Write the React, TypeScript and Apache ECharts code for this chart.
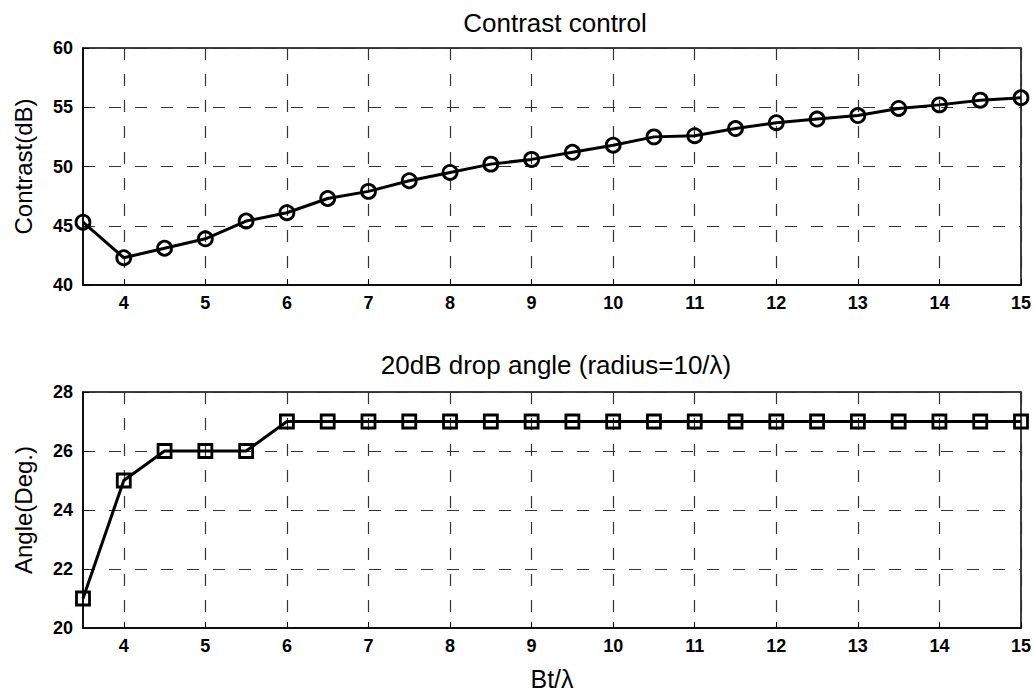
import React, { useEffect, useRef } from "react";
import * as echarts from "echarts";

const btOverLambda = [3.5, 4, 4.5, 5, 5.5, 6, 6.5, 7, 7.5, 8, 8.5, 9, 9.5, 10, 10.5, 11, 11.5, 12, 12.5, 13, 13.5, 14, 14.5, 15];
const contrastDb = [45.3, 42.3, 43.1, 43.9, 45.4, 46.1, 47.3, 47.9, 48.8, 49.5, 50.2, 50.6, 51.2, 51.8, 52.5, 52.6, 53.2, 53.7, 54.0, 54.3, 54.9, 55.2, 55.6, 55.8];
const dropAngleDeg = [21, 25, 26, 26, 26, 27, 27, 27, 27, 27, 27, 27, 27, 27, 27, 27, 27, 27, 27, 27, 27, 27, 27, 27];
const xTicks = [4, 5, 6, 7, 8, 9, 10, 11, 12, 13, 14, 15];
const titles = ["Contrast control", "20dB drop angle (radius=10/\u03bb)"];
const yNames = ["Contrast(dB)", "Angle(Deg.)"];
const xName = "Bt/\u03bb";

const FONT = "Liberation Sans, Arial, sans-serif";

export default function App() {
  const ref = useRef<HTMLDivElement>(null);
  useEffect(() => {
    if (!ref.current) return;
    const chart = echarts.init(ref.current, null, { renderer: "svg" });
    const splitLine = { show: true, lineStyle: { color: "#333", type: [12, 14] as any, width: 1.2 } };
    const tickFont = { color: "#000", fontSize: 18, fontWeight: "bold" as const, fontFamily: FONT };
    const mkX = (gi: number, withName: boolean) => ({
      type: "value" as const,
      gridIndex: gi,
      min: 3.5,
      max: 15,
      axisLine: { show: true, lineStyle: { color: "#000", width: 1.5 } },
      axisTick: { show: true, inside: true, length: 6, customValues: xTicks, lineStyle: { color: "#000" } },
      axisLabel: { customValues: xTicks, ...tickFont, margin: 9 },
      splitLine,
      name: withName ? xName : "",
      nameLocation: "middle" as const,
      nameGap: 38,
      nameTextStyle: { color: "#000", fontSize: 25, fontFamily: FONT },
    });
    const mkY = (gi: number, min: number, max: number, interval: number, name: string) => ({
      type: "value" as const,
      gridIndex: gi,
      min,
      max,
      interval,
      axisLine: { show: true, lineStyle: { color: "#000", width: 1.5 } },
      axisTick: { show: true, inside: true, length: 6, lineStyle: { color: "#000" } },
      axisLabel: { ...tickFont, margin: 10 },
      splitLine,
      name,
      nameLocation: "middle" as const,
      nameGap: 48,
      nameTextStyle: { color: "#000", fontSize: 24, fontFamily: FONT },
    });
    chart.setOption({
      animation: false,
      backgroundColor: "#fff",
      title: [
        { text: titles[0], left: 550, top: 5, textAlign: "center", textStyle: { fontSize: 26, fontWeight: "normal", color: "#000", fontFamily: FONT } },
        { text: titles[1], left: 551, top: 347, textAlign: "center", textStyle: { fontSize: 26, fontWeight: "normal", color: "#000", fontFamily: FONT } },
      ],
      grid: [
        { left: 83, right: 14, top: 48, height: 237, show: true, borderColor: "#000", borderWidth: 1.5, backgroundColor: "transparent" },
        { left: 83, right: 14, top: 392, height: 236, show: true, borderColor: "#000", borderWidth: 1.5, backgroundColor: "transparent" },
      ],
      xAxis: [mkX(0, false), mkX(1, true)],
      yAxis: [mkY(0, 40, 60, 5, yNames[0]), mkY(1, 20, 28, 2, yNames[1])],
      series: [
        {
          type: "line",
          xAxisIndex: 0,
          yAxisIndex: 0,
          data: btOverLambda.map((x, i) => [x, contrastDb[i]]),
          symbol: "circle",
          symbolSize: 14,
          lineStyle: { color: "#000", width: 3 },
          itemStyle: { color: "transparent", borderColor: "#000", borderWidth: 2.8 },
          clip: false,
        },
        {
          type: "line",
          xAxisIndex: 1,
          yAxisIndex: 1,
          data: btOverLambda.map((x, i) => [x, dropAngleDeg[i]]),
          symbol: "rect",
          symbolSize: 13,
          lineStyle: { color: "#000", width: 3 },
          itemStyle: { color: "transparent", borderColor: "#000", borderWidth: 2.8 },
          clip: false,
        },
      ],
    });
    return () => chart.dispose();
  }, []);
  return <div ref={ref} style={{ width: 1035, height: 696, position: "absolute", left: 0, top: 0 }} />;
}
